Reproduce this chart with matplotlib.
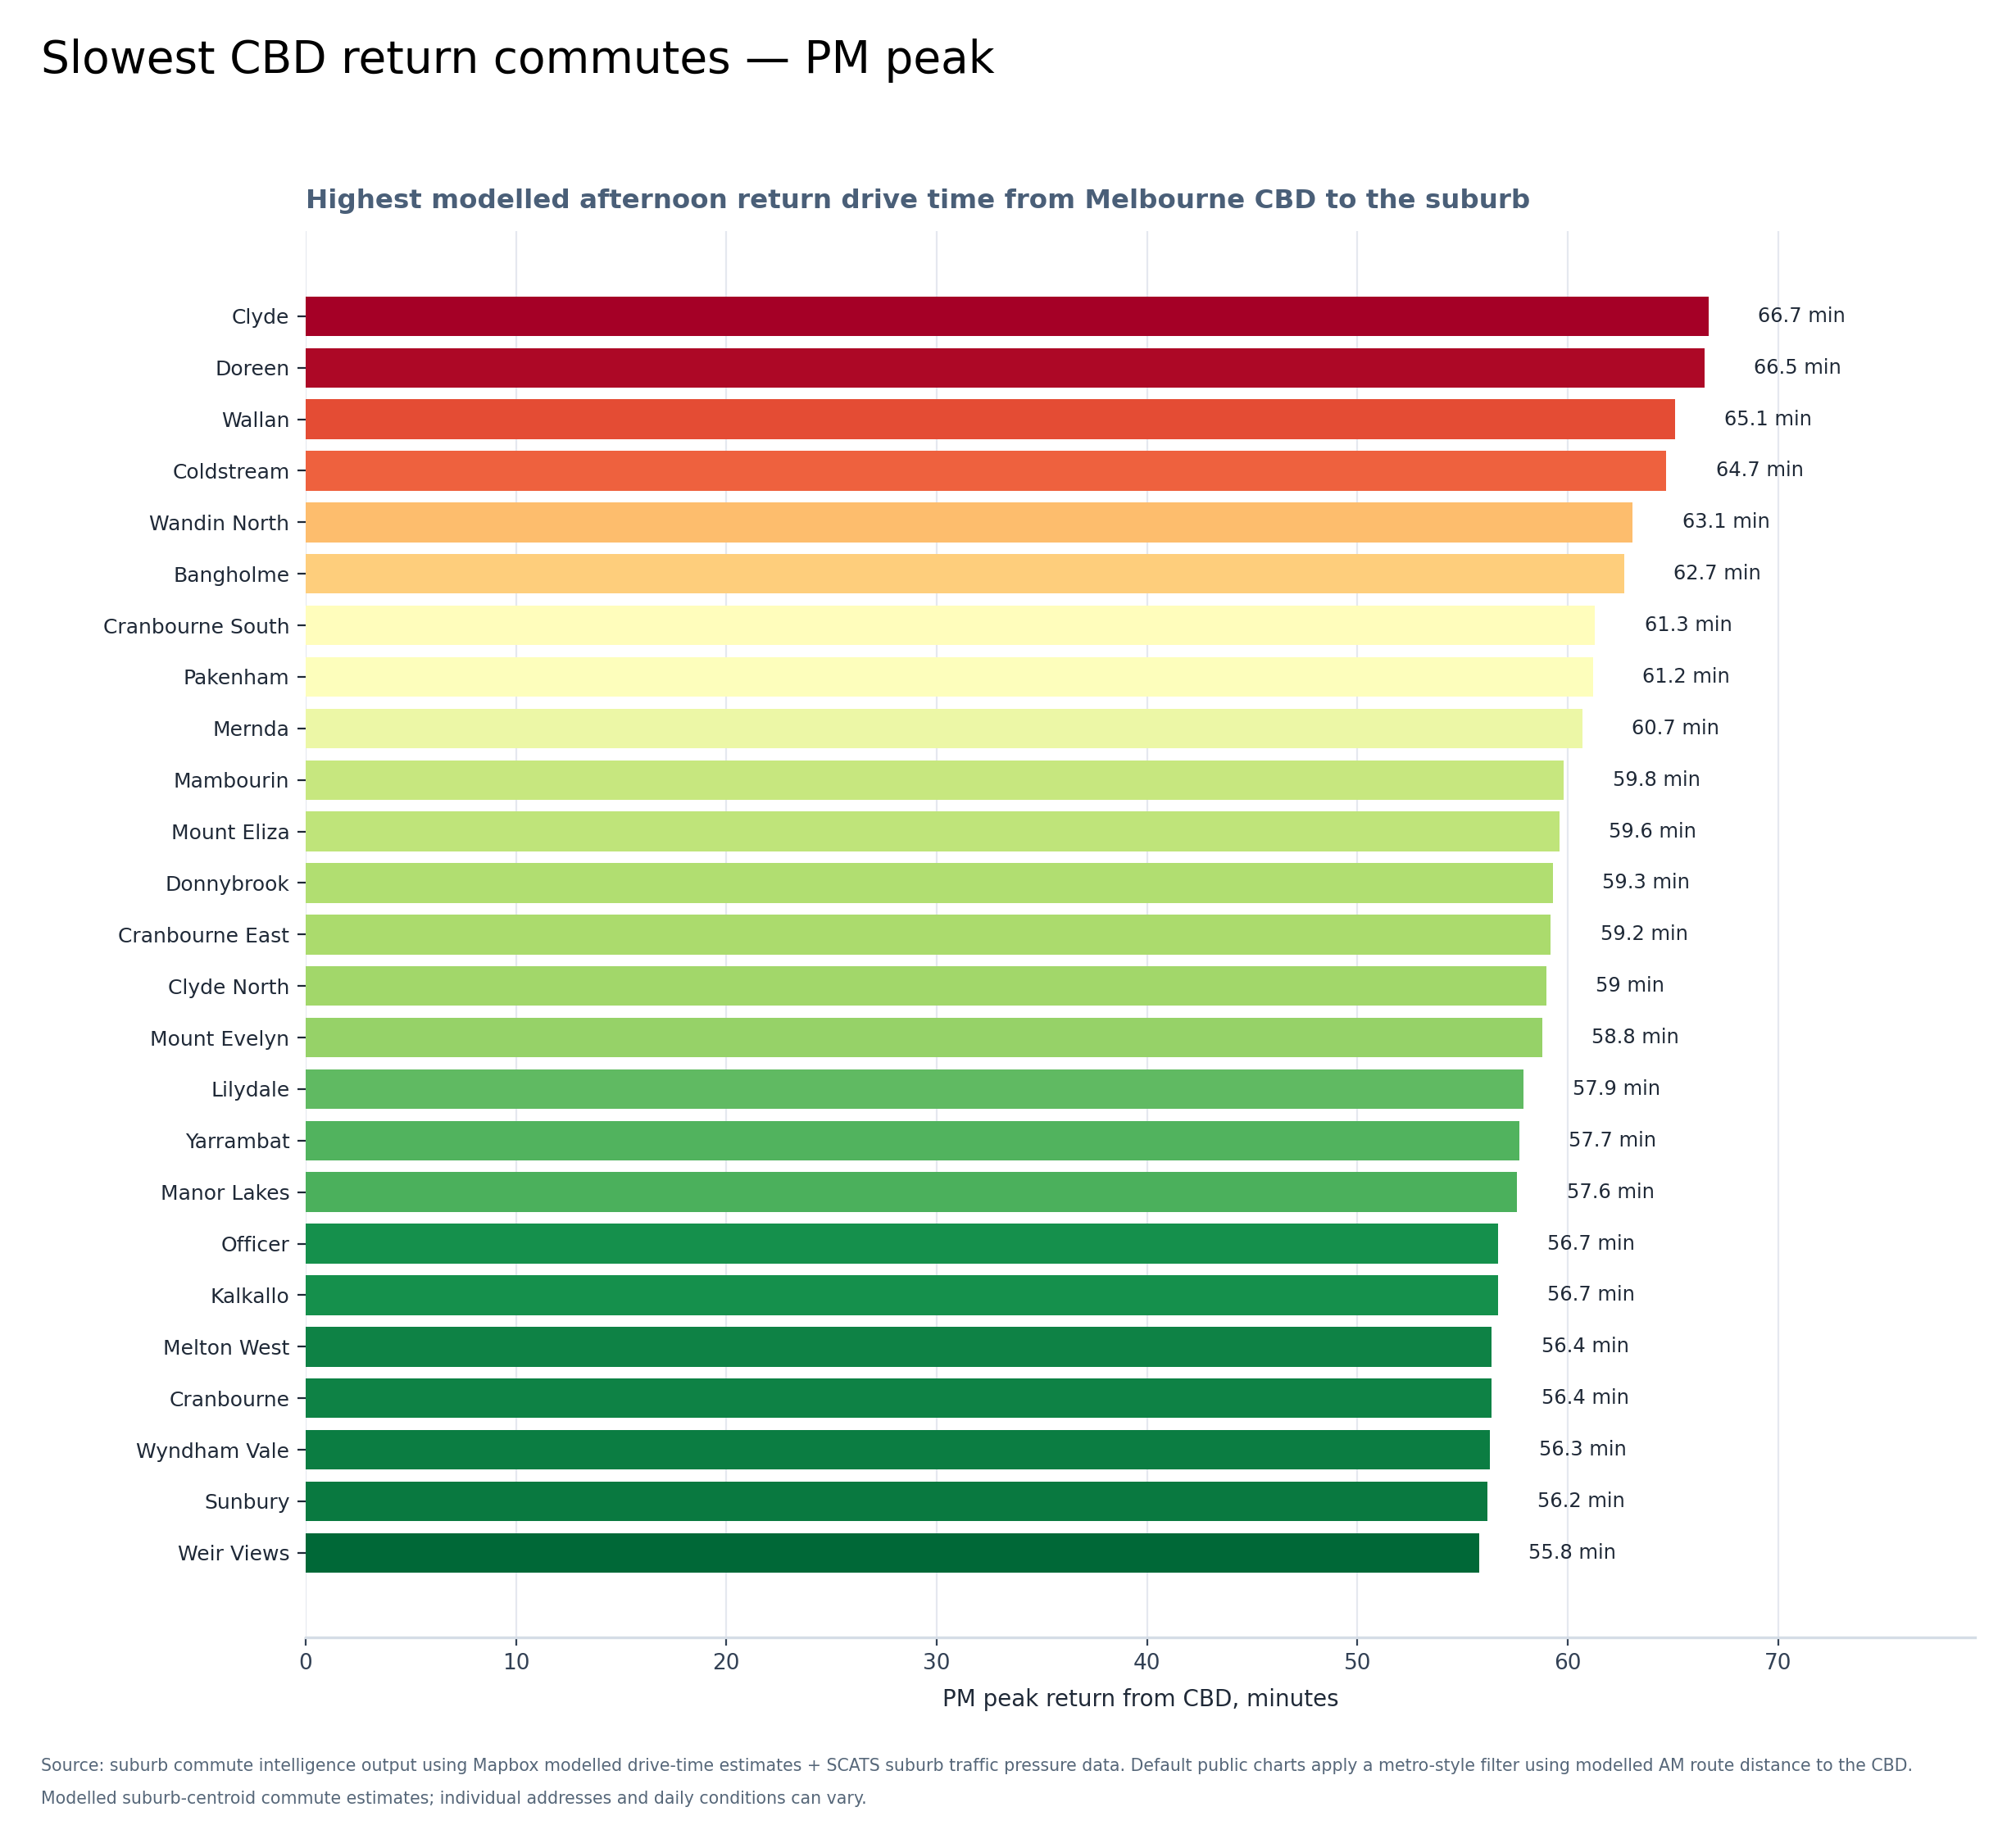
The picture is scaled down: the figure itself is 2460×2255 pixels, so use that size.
import numpy as np
import matplotlib
matplotlib.use('Agg')
import matplotlib.pyplot as plt
from matplotlib.colors import Normalize

suburbs = ['Clyde', 'Doreen', 'Wallan', 'Coldstream', 'Wandin North', 'Bangholme',
           'Cranbourne South', 'Pakenham', 'Mernda', 'Mambourin', 'Mount Eliza',
           'Donnybrook', 'Cranbourne East', 'Clyde North', 'Mount Evelyn', 'Lilydale',
           'Yarrambat', 'Manor Lakes', 'Officer', 'Kalkallo', 'Melton West',
           'Cranbourne', 'Wyndham Vale', 'Sunbury', 'Weir Views']
pm_minutes = [66.7, 66.5, 65.1, 64.7, 63.1, 62.7, 61.3, 61.2, 60.7, 59.8, 59.6,
              59.3, 59.2, 59.0, 58.8, 57.9, 57.7, 57.6, 56.7, 56.7, 56.4, 56.4,
              56.3, 56.2, 55.8]

title = 'Slowest CBD return commutes \u2014 PM peak'
subtitle = 'Highest modelled afternoon return drive time from Melbourne CBD to the suburb'
xlabel = 'PM peak return from CBD, minutes'
footer1 = ('Source: suburb commute intelligence output using Mapbox modelled drive-time estimates + '
           'SCATS suburb traffic pressure data. Default public charts apply a metro-style filter '
           'using modelled AM route distance to the CBD.')
footer2 = 'Modelled suburb-centroid commute estimates; individual addresses and daily conditions can vary.'

vals = np.array(pm_minutes)
ypos = np.arange(len(suburbs))
norm = Normalize(vmin=vals.min(), vmax=vals.max())
colors = plt.cm.RdYlGn_r(norm(vals))

fig = plt.figure(figsize=(12.3, 11.275), dpi=200)
ax = fig.add_axes([0.1516, 0.1140, 0.8281, 0.7609])

ax.set_axisbelow(True)
ax.grid(axis='x', color='#e5e8ef', linewidth=0.8)
ax.barh(ypos, vals, height=0.77, color=colors, zorder=2)

for y, v in zip(ypos, vals):
    ax.text(v + 2.35, y, '{:g} min'.format(v), va='center', ha='left',
            fontsize=8.7, color='#1f2937')

ax.set_yticks(ypos)
ax.set_yticklabels(suburbs, fontsize=9, color='#1f2937')
ax.set_ylim(len(suburbs) - 1 + 1.64, -1.65)
ax.set_xlim(0, vals.max() * 1.19)
ax.set_xticks([0, 10, 20, 30, 40, 50, 60, 70])
ax.tick_params(axis='x', labelsize=9.5, labelcolor='#334155', color='#334155', length=3.5, width=0.8)
ax.tick_params(axis='y', color='#1f2937', length=3.5, width=0.8, pad=3.5)
ax.set_xlabel(xlabel, fontsize=10, color='#1f2937', labelpad=6)

for s in ['top', 'right', 'left']:
    ax.spines[s].set_visible(False)
ax.spines['bottom'].set_color('#d5dde6')
ax.spines['bottom'].set_linewidth(1.2)

ax.set_title(subtitle, loc='left', fontsize=11.7, fontweight='bold', color='#4a5f78', pad=10)
fig.text(0.0205, 0.967, title, fontsize=19.8, color='black', va='center', ha='left')
fig.text(0.0205, 0.0443, footer1, fontsize=7.4, color='#566779', va='center', ha='left')
fig.text(0.0205, 0.0266, footer2, fontsize=7.4, color='#566779', va='center', ha='left')

fig.savefig('out.png', dpi=200)
